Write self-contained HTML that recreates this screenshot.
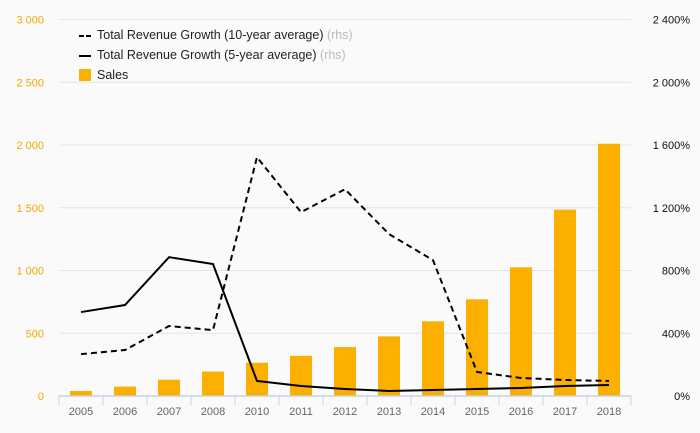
<!DOCTYPE html>
<html><head><meta charset="utf-8"><style>
body{margin:0;background:#fafafa;font-family:"Liberation Sans",sans-serif}
svg{display:block}
</style></head><body>
<svg id="c" width="700" height="433"></svg>
<script>
const categories=["2005","2006","2007","2008","2010","2011","2012","2013","2014","2015","2016","2017","2018"];
const sales=[40,75,130,195,265,320,390,475,595,770,1025,1485,2010];
const growth10=[267,293,446,420,1522,1172,1318,1032,866,153,115,102,96];
const growth5=[535,580,885,841,96,64,45,32,38,45,51,64,70];
const leftTicks=[0,500,1000,1500,2000,2500,3000];
const rightTicks=[0,400,800,1200,1600,2000,2400];
const leftLabels=["0","500","1 000","1 500","2 000","2 500","3 000"];
const rightLabels=["0%","400%","800%","1 200%","1 600%","2 000%","2 400%"];
const NS="http://www.w3.org/2000/svg",svg=document.getElementById('c');
const L=59,R=631,T=19.5,B=396,bw=(R-L)/categories.length;
const yL=v=>B-(v/3000)*(B-T), yR=v=>B-(v/2400)*(B-T), xC=i=>L+bw*(i+0.5);
function mk(t,a,p){const e=document.createElementNS(NS,t);for(const k in a)e.setAttribute(k,a[k]);(p||svg).appendChild(e);return e;}
leftTicks.forEach((v,i)=>{
 if(v>0){const g=mk('line',{x1:L,x2:R,y1:yL(v),y2:yL(v),stroke:'#e4e4e4'});
 
 }
 const t=mk('text',{x:44,y:yL(v)+4,'text-anchor':'end','font-size':11,fill:'#f5a800'});t.textContent=leftLabels[i];
 
 
});
rightTicks.forEach((v,i)=>{
 const t=mk('text',{x:690,y:yR(v)+4,'text-anchor':'end','font-size':11,fill:'#111'});t.textContent=rightLabels[i];
 
 
});
sales.forEach((v,i)=>{
 const r=mk('rect',{x:xC(i)-11,y:yL(v),width:22,height:B-yL(v),fill:'#fbb000'});
 
 
});
const ax=mk('line',{x1:L,x2:R,y1:B,y2:B,stroke:'#c5d3e8','stroke-width':1.5});


for(let i=0;i<=categories.length;i++){
 const tk=mk('line',{x1:L+bw*i,x2:L+bw*i,y1:B,y2:B+9,stroke:'#c5d3e8'});
 
 
}
categories.forEach((c,i)=>{
 const t=mk('text',{x:xC(i),y:415,'text-anchor':'middle','font-size':11,fill:'#666'});t.textContent=c;
 
 
});
const p10=mk('polyline',{points:growth10.map((v,i)=>xC(i)+','+yR(v)).join(' '),fill:'none',stroke:'#000','stroke-width':2,'stroke-dasharray':'6,4'});


const p5=mk('polyline',{points:growth5.map((v,i)=>xC(i)+','+yR(v)).join(' '),fill:'none',stroke:'#000','stroke-width':2});


</script>
<div style="position:absolute;left:0;top:0;width:700px;height:433px;pointer-events:none;font-size:12.5px;color:#222">
 <div style="position:absolute;left:79px;top:28px"><span style="display:inline-block;width:5px;border-top:2px solid #000;vertical-align:middle;margin-right:2px"></span><span style="display:inline-block;width:5px;border-top:2px solid #000;vertical-align:middle;margin-right:6px"></span>Total Revenue Growth (10-year average) <span style="color:#bbb">(rhs)</span></div>
 <div style="position:absolute;left:79px;top:48px"><span style="display:inline-block;width:12px;border-top:2px solid #000;vertical-align:middle;margin-right:6px"></span>Total Revenue Growth (5-year average) <span style="color:#bbb">(rhs)</span></div>
 <div style="position:absolute;left:79px;top:68px"><span style="display:inline-block;width:12px;height:12px;background:#fbb000;vertical-align:-2px;margin-right:6px"></span>Sales</div>
</div>
</body></html>
